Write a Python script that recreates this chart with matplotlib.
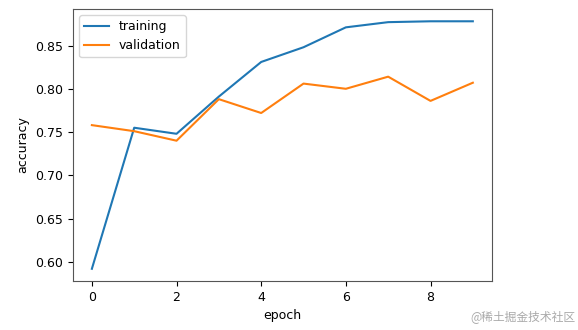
import numpy as np
import matplotlib
matplotlib.use('Agg')
import matplotlib.pyplot as plt

plt.rcParams['font.family'] = ['DejaVu Sans', 'Noto Sans CJK SC']

# 训练过程中每个 epoch 的准确率
epochs = np.arange(10)
train_acc = [0.592, 0.755, 0.748, 0.791, 0.831, 0.848, 0.871, 0.877, 0.878, 0.878]
val_acc = [0.758, 0.751, 0.740, 0.788, 0.772, 0.806, 0.800, 0.814, 0.786, 0.807]

fig = plt.figure(figsize=(5.78, 3.30), dpi=100)
ax = fig.add_axes([0.126, 0.148, 0.725, 0.825])
ax.plot(epochs, train_acc, label='training')
ax.plot(epochs, val_acc, label='validation')
ax.set_xticks([0, 2, 4, 6, 8])
ax.tick_params(labelsize=9)
ax.set_xlabel('epoch', fontsize=9)
ax.set_ylabel('accuracy', fontsize=9)
ax.legend(loc='upper left', fontsize=9)
for s in ax.spines.values():
    s.set_color('#555555')

fig.text(0.995, 0.02, '@稀土掘金技术社区', ha='right', va='bottom',
         fontsize=8.5, color='#aaaaaa', family=['Noto Sans CJK SC', 'DejaVu Sans'])

plt.savefig('out.png', dpi=100)
